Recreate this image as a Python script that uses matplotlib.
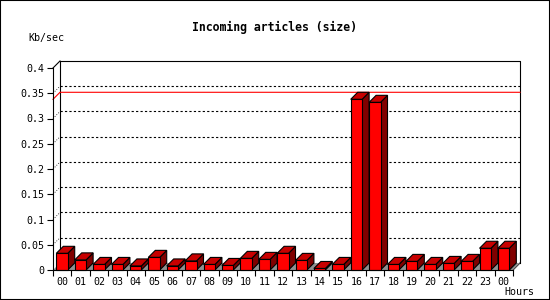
import matplotlib
matplotlib.use("Agg")
import matplotlib.pyplot as plt
from matplotlib.patches import Polygon, Rectangle

hours = ["00", "01", "02", "03", "04", "05", "06", "07", "08", "09", "10", "11",
         "12", "13", "14", "15", "16", "17", "18", "19", "20", "21", "22", "23", "00"]
kbsec = [0.033, 0.020, 0.011, 0.011, 0.008, 0.025, 0.008, 0.018, 0.011, 0.009,
         0.023, 0.021, 0.033, 0.019, 0.003, 0.011, 0.338, 0.332, 0.011, 0.017,
         0.011, 0.013, 0.017, 0.043, 0.043]
yticks = [0, 0.05, 0.1, 0.15, 0.2, 0.25, 0.3, 0.35, 0.4]
ytick_labels = ["0", "0.05", "0.1", "0.15", "0.2", "0.25", "0.3", "0.35", "0.4"]

mono = "DejaVu Sans Mono"
n = len(kbsec)
ymax = 0.4
# 3d depth, in data units (about 7 px each way)
dx = 0.38
dy = 0.0139
off, w = 0.18, 0.62

fig = plt.figure(figsize=(5.5, 3), dpi=100)
fig.patch.set_facecolor("white")
ax = fig.add_axes([53 / 550, 30 / 300, 460 / 550, 202 / 300])
ax.set_xlim(0, n)
ax.set_ylim(0, ymax)
ax.patch.set_visible(False)

# back wall
ax.plot([dx, dx, n + dx, n + dx], [dy, ymax + dy, ymax + dy, dy],
        color="black", lw=0.8, clip_on=False, zorder=1)
ax.plot([0, dx], [ymax, ymax + dy], color="black", lw=0.8, clip_on=False, zorder=1)
ax.plot([n, n + dx], [0, dy], color="black", lw=0.8, clip_on=False, zorder=1)

# dotted grid on the back wall
for v in yticks[1:-1]:
    ax.plot([dx, n + dx], [v + dy, v + dy], color="black", lw=0.8,
            ls=(0, (2, 2)), clip_on=False, zorder=1)
    ax.plot([0, dx], [v, v + dy], color="black", lw=0.6,
            ls=(0, (1, 2)), clip_on=False, zorder=1)

# floor
ax.add_patch(Polygon([[0, 0], [n, 0], [n + dx, dy], [dx, dy]], closed=True,
                     facecolor="#909090", edgecolor="none", clip_on=False, zorder=2))

# max line
top = max(kbsec)
ax.plot([0, dx, n + dx], [top, top + dy, top + dy], color="red", lw=0.8,
        clip_on=False, zorder=2)

# bars
for i, v in enumerate(kbsec):
    x0 = i + off
    x1 = x0 + w
    front = Rectangle((x0, 0), w, v, facecolor="#ff0000", edgecolor="black",
                      lw=0.8, clip_on=False, zorder=3)
    topf = Polygon([[x0, v], [x1, v], [x1 + dx, v + dy], [x0 + dx, v + dy]],
                   closed=True, facecolor="#c80000", edgecolor="black", lw=0.8,
                   clip_on=False, zorder=3)
    side = Polygon([[x1, 0], [x1 + dx, dy], [x1 + dx, v + dy], [x1, v]],
                   closed=True, facecolor="#800000", edgecolor="black", lw=0.8,
                   clip_on=False, zorder=3)
    ax.add_patch(side)
    ax.add_patch(topf)
    ax.add_patch(front)

for s in ["top", "right"]:
    ax.spines[s].set_visible(False)
for s in ["left", "bottom"]:
    ax.spines[s].set_linewidth(0.8)
    ax.spines[s].set_zorder(4)

ax.set_yticks(yticks)
ax.set_yticklabels(ytick_labels, fontfamily=mono, fontsize=7.2)
ax.tick_params(axis="y", length=4, width=0.8, pad=2)

ax.set_xticks(range(n + 1))
ax.set_xticklabels([])
ax.tick_params(axis="x", which="major", length=4, width=0.8)
ax.set_xticks([i + 0.5 for i in range(n)], minor=True)
ax.set_xticklabels(hours, minor=True, fontfamily=mono, fontsize=7.2)
ax.tick_params(axis="x", which="minor", length=0, pad=5)

fig.text(274 / 550, 1 - 27 / 300, "Incoming articles (size)", ha="center",
         va="center", fontfamily=mono, fontweight="bold", fontsize=8.3)
fig.text(28 / 550, 1 - 38 / 300, "Kb/sec", ha="left", va="center",
         fontfamily=mono, fontsize=7.2)
fig.text(504 / 550, 1 - 292 / 300, "Hours", ha="left", va="center",
         fontfamily=mono, fontsize=7.2)

fig.add_artist(Rectangle((0, 0), 1, 1, transform=fig.transFigure, fill=False,
                         edgecolor="black", lw=1.5))

fig.savefig("out.png", dpi=100)
